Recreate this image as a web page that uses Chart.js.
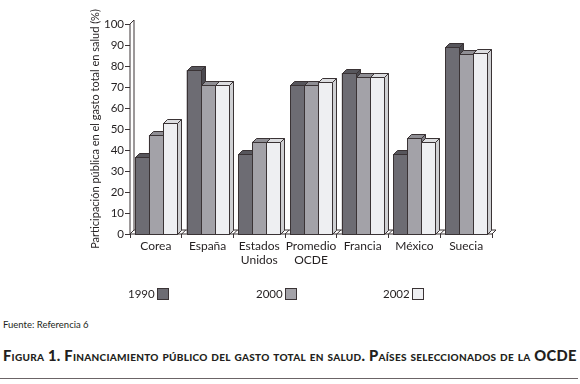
<!DOCTYPE html>
<html>
<head>
<meta charset="utf-8">
<script src="https://cdn.jsdelivr.net/npm/chart.js@4"></script>
<style>
  body { margin: 0; background: #fff; width: 580px; height: 384px; overflow: hidden; position: relative; font-family: Lato, sans-serif; color: #231f20; }
  #wrap { position: absolute; left: 0; top: 0; width: 580px; height: 305px; }
  #fuente { position: absolute; left: 3px; top: 319px; font-size: 9.5px; }
  #titulo { position: absolute; left: 3px; top: 346px; font-size: 14.7px; font-weight: 900; font-variant: small-caps; white-space: nowrap; letter-spacing: 0.28px; }
  #regla { position: absolute; left: 0; top: 378px; width: 578px; height: 1px; background: #6b6466; }
</style>
</head>
<body>
<div id="wrap"><canvas id="grafico" width="580" height="305"></canvas></div>
<div id="fuente">Fuente: Referencia 6</div>
<div id="titulo">Figura 1. Financiamiento público del gasto total en salud. Países seleccionados de la OCDE</div>
<div id="regla"></div>
<script>
// datos
const paises = [['Corea'], ['España'], ['Estados', 'Unidos'], ['Promedio', 'OCDE'], ['Francia'], ['México'], ['Suecia']];
const anios = ['1990', '2000', '2002'];
const v1990 = [36.5, 78, 38, 71, 76.5, 38, 89];
const v2000 = [47, 71, 44, 71, 75, 45.5, 85.5];
const v2002 = [53, 71, 44, 72.5, 75, 44, 86];
const ticksY = [0, 10, 20, 30, 40, 50, 60, 70, 80, 90, 100];

const frente = ['#6d6c73', '#a3a2a8', '#eeeff2'];
const tapa = ['#57565c', '#8f8e94', '#dcdde0'];
const lado = ['#4a494f', '#7f7e84', '#cfd0d3'];
const borde = '#3a3335';
const texto = '#231f20';
const prof = 4;

// caras laterales y superiores de las barras, piso y pared
const efecto3d = {
  id: 'efecto3d',
  beforeDatasetsDraw(chart) {
    const { ctx, chartArea: a } = chart;
    ctx.save();
    ctx.strokeStyle = borde;
    ctx.lineWidth = 1;
    ctx.fillStyle = '#fff';
    // piso
    ctx.beginPath();
    ctx.moveTo(a.left, a.bottom);
    ctx.lineTo(a.right, a.bottom);
    ctx.lineTo(a.right + prof, a.bottom - prof);
    ctx.lineTo(a.left + prof, a.bottom - prof);
    ctx.closePath();
    ctx.fill();
    ctx.stroke();
    // pared
    ctx.beginPath();
    ctx.moveTo(a.left, a.bottom);
    ctx.lineTo(a.left, a.top);
    ctx.lineTo(a.left + prof, a.top - prof);
    ctx.lineTo(a.left + prof, a.bottom - prof);
    ctx.closePath();
    ctx.fill();
    ctx.stroke();
    // separadores del piso
    const x = chart.scales.x;
    for (let i = 1; i < paises.length; i++) {
      const xb = (x.getPixelForTick(i - 1) + x.getPixelForTick(i)) / 2;
      ctx.beginPath();
      ctx.moveTo(xb, a.bottom);
      ctx.lineTo(xb + prof, a.bottom - prof);
      ctx.stroke();
    }
    ctx.restore();
  },
  afterDatasetsDraw(chart) {
    const { ctx } = chart;
    ctx.save();
    ctx.strokeStyle = borde;
    ctx.lineWidth = 1;
    for (let i = 0; i < paises.length; i++) {
      for (let d = 0; d < anios.length; d++) {
        const bar = chart.getDatasetMeta(d).data[i];
        const { x, y, base, width } = bar.getProps(['x', 'y', 'base', 'width'], true);
        const l = Math.round(x - width / 2) + 0.5, r = Math.round(x + width / 2) + 0.5;
        const t = Math.round(y) + 0.5, b = Math.round(base) + 0.5;
        // frente
        ctx.fillStyle = frente[d];
        ctx.fillRect(l, t, r - l, b - t);
        ctx.strokeRect(l, t, r - l, b - t);
        // tapa
        ctx.fillStyle = tapa[d];
        ctx.beginPath();
        ctx.moveTo(l, t);
        ctx.lineTo(l + prof, t - prof);
        ctx.lineTo(r + prof, t - prof);
        ctx.lineTo(r, t);
        ctx.closePath();
        ctx.fill();
        ctx.stroke();
        // lado
        ctx.fillStyle = lado[d];
        ctx.beginPath();
        ctx.moveTo(r, t);
        ctx.lineTo(r + prof, t - prof);
        ctx.lineTo(r + prof, b - prof);
        ctx.lineTo(r, b);
        ctx.closePath();
        ctx.fill();
        ctx.stroke();
      }
    }
    ctx.restore();
  },
  afterDraw(chart) {
    // leyenda: texto y luego el cuadro
    const { ctx, chartArea: a } = chart;
    ctx.save();
    ctx.font = '11.5px Lato';
    ctx.textBaseline = 'middle';
    ctx.strokeStyle = borde;
    const yL = a.bottom + 60;
    const posX = [128, 256, 383];
    anios.forEach((an, d) => {
      ctx.fillStyle = texto;
      ctx.textAlign = 'left';
      ctx.fillText(an, posX[d], yL);
      const bx = posX[d] + 29.5, by = yL - 5.5;
      ctx.fillStyle = frente[d];
      ctx.fillRect(bx, by, 11, 11);
      ctx.strokeRect(bx, by, 11, 11);
    });
    ctx.restore();
  }
};

new Chart(document.getElementById('grafico'), {
  type: 'bar',
  data: {
    labels: paises,
    datasets: [
      { label: anios[0], data: v1990, backgroundColor: frente[0] },
      { label: anios[1], data: v2000, backgroundColor: frente[1] },
      { label: anios[2], data: v2002, backgroundColor: frente[2] }
    ]
  },
  options: {
    responsive: false,
    animation: false,
    layout: { padding: { left: 86, right: 88, top: 24, bottom: 41 } },
    datasets: { bar: { barPercentage: 1, categoryPercentage: 0.81 } },
    plugins: { legend: { display: false }, tooltip: { enabled: false } },
    scales: {
      x: {
        grid: { display: true, drawOnChartArea: false, offset: true, color: borde, tickLength: 4 },
        border: { display: false },
        ticks: { color: texto, font: { family: 'Lato', size: 12 }, padding: 1, maxRotation: 0, autoSkip: false },
        afterFit(s) { s.height = 30; }
      },
      y: {
        min: 0,
        max: 100,
        afterBuildTicks(s) { s.ticks = ticksY.map(v => ({ value: v })); },
        grid: { display: true, drawOnChartArea: false, color: borde, tickLength: 5 },
        border: { display: false },
        ticks: { color: texto, font: { family: 'Lato', size: 11.5 }, padding: 1 },
        title: { display: true, text: 'Participación pública en el gasto total en salud (%)', color: texto, font: { family: 'Lato', size: 11 }, padding: { top: 3, bottom: 0 } },
        afterFit(s) { s.width = 44; }
      }
    }
  },
  plugins: [efecto3d]
});
</script>
</body>
</html>
